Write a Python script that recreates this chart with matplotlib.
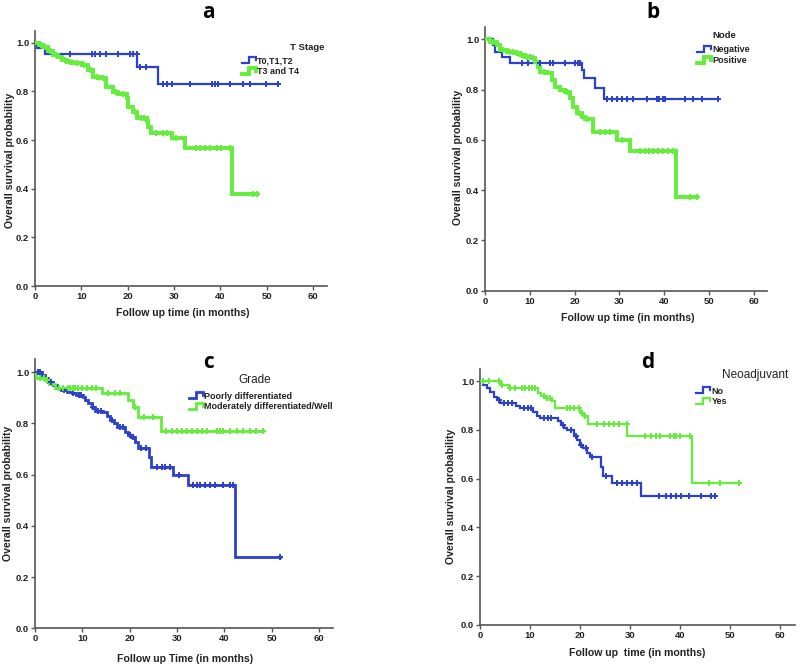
import numpy as np
import matplotlib
matplotlib.use('Agg')
import matplotlib.pyplot as plt
from matplotlib.lines import Line2D
from matplotlib.legend_handler import HandlerBase

plt.rcParams['font.family'] = ['Liberation Sans Narrow', 'Liberation Sans', 'DejaVu Sans']

BLUE = '#2b40cc'
GREEN = '#62ee3a'

# ---- panel a : T stage ----
a_t0_time = [0, 0.5, 2.2, 22.0, 26.6, 52.4]
a_t0_surv = [1.0, 0.979, 0.952, 0.901, 0.830, 0.830]
a_t0_cens = [7.5, 12.2, 12.9, 14.0, 15.3, 18.0, 20.5, 21.2, 21.9, 22.6, 23.9, 27.7, 28.4,
             29.6, 33.4, 38.1, 38.8, 39.5, 42.0, 44.9, 46.3, 49.9, 52.4]
a_t3_time = [0, 0.8, 1.8, 2.8, 3.9, 5.0, 5.9, 7.0, 8.3, 10.1, 11.5, 12.6, 14.0, 15.4, 16.9,
             18.0, 19.8, 20.1, 21.2, 21.9, 24.1, 24.4, 25.1, 29.5, 32.3, 42.5, 47.8]
a_t3_surv = [1.0, 0.99, 0.984, 0.965, 0.949, 0.94, 0.929, 0.922, 0.915, 0.908, 0.888, 0.860,
             0.853, 0.819, 0.799, 0.789, 0.771, 0.737, 0.716, 0.689, 0.68, 0.655, 0.627, 0.607,
             0.566, 0.378, 0.378]
a_t3_cens = [1.2, 2.2, 3.3, 4.5, 6.5, 7.6, 9.0, 10.6, 12.0, 13.3, 14.6, 17.4, 19.0, 21.6, 22.8,
             23.5, 26.2, 27.7, 28.4, 30.5, 34.8, 35.6, 36.6, 37.7, 39.2, 40.2, 42.0, 47.0, 47.8]

# ---- panel b : node ----
b_neg_time = [0, 1.85, 2.2, 3.7, 5.6, 21.6, 22.1, 24.6, 26.6, 52.1]
b_neg_surv = [1.0, 0.977, 0.951, 0.931, 0.904, 0.878, 0.845, 0.805, 0.762, 0.762]
b_neg_cens = [8.2, 9.7, 12.3, 14.5, 15.1, 17.9, 20.1, 20.8, 21.2, 27.2, 28.3, 29.4, 30.5, 31.6,
              33.1, 36.1, 38.3, 38.9, 39.8, 40.2, 44.6, 46.5, 48.4, 52.1]
b_pos_time = [0, 1.1, 2.6, 3.4, 4.8, 6.7, 7.8, 8.9, 10.4, 11.2, 11.9, 12.3, 13.8, 14.9, 15.6,
              16.7, 17.9, 19.0, 19.7, 20.5, 21.6, 22.3, 24.2, 29.4, 32.4, 42.6, 47.2]
b_pos_surv = [1.0, 0.990, 0.977, 0.957, 0.951, 0.947, 0.938, 0.931, 0.924, 0.911, 0.891, 0.871,
              0.865, 0.838, 0.811, 0.798, 0.790, 0.765, 0.732, 0.706, 0.692, 0.682, 0.632, 0.600,
              0.557, 0.374, 0.374]
b_pos_cens = [1.5, 2.0, 4.0, 5.5, 6.2, 7.2, 8.2, 9.3, 10.0, 13.2, 18.3, 20.9, 22.8, 25.7, 26.8,
              27.9, 30.5, 34.6, 35.7, 36.5, 37.6, 38.7, 39.8, 40.9, 42.0, 45.8, 47.2]

# ---- panel c : grade ----
c_poor_time = [0, 1.4, 2.1, 2.8, 3.9, 4.6, 5.6, 6.7, 7.8, 8.6, 10.2, 10.6, 11.3, 12.0, 12.7,
               14.4, 15.2, 15.9, 16.6, 17.3, 19.0, 19.7, 20.4, 21.1, 21.8, 24.2, 24.6, 29.2,
               32.4, 42.3, 51.8]
c_poor_surv = [1.0, 0.989, 0.977, 0.963, 0.950, 0.938, 0.931, 0.924, 0.918, 0.911, 0.905, 0.892,
               0.879, 0.866, 0.850, 0.845, 0.829, 0.814, 0.801, 0.787, 0.768, 0.755, 0.746,
               0.729, 0.703, 0.670, 0.632, 0.599, 0.560, 0.277, 0.277]
c_poor_cens = [0.6, 1.0, 3.3, 5.0, 6.2, 8.0, 9.3, 9.8, 12.3, 13.4, 14.0, 16.2, 18.0, 18.5, 20.0,
               20.8, 22.5, 23.4, 25.7, 26.8, 27.5, 28.5, 30.5, 33.5, 34.2, 34.9, 35.9, 37.0,
               38.1, 39.8, 41.2, 41.9, 51.8]
c_mod_time = [0, 0.3, 2.2, 3.0, 4.2, 14.1, 19.7, 20.8, 21.8, 26.6, 48.3]
c_mod_surv = [1.0, 0.976, 0.97, 0.955, 0.9375, 0.918, 0.892, 0.863, 0.824, 0.772, 0.772]
c_mod_cens = [1.0, 1.8, 2.6, 5.0, 6.0, 7.0, 7.5, 8.0, 8.5, 9.0, 10.0, 11.0, 12.0, 13.0, 15.5,
              17.0, 18.0, 21.2, 23.0, 25.0, 27.8, 28.9, 30.0, 31.0, 32.1, 33.1, 34.2, 35.2,
              36.3, 38.4, 39.1, 39.8, 41.2, 42.6, 44.0, 45.5, 46.8, 48.3]

# ---- panel d : neoadjuvant ----
d_no_time = [0, 0.6, 1.4, 2.0, 2.7, 3.4, 4.0, 7.2, 8.0, 10.6, 11.4, 12.0, 15.5, 16.1, 16.8,
             17.4, 18.8, 19.4, 19.9, 20.6, 21.4, 21.9, 24.1, 24.6, 26.4, 32.2, 47.0]
d_no_surv = [1.0, 0.984, 0.970, 0.956, 0.936, 0.922, 0.911, 0.898, 0.888, 0.874, 0.857, 0.847,
             0.837, 0.820, 0.806, 0.799, 0.775, 0.758, 0.738, 0.724, 0.704, 0.687, 0.649,
             0.612, 0.583, 0.530, 0.530]
d_no_cens = [3.7, 4.8, 5.6, 6.4, 8.7, 9.6, 10.2, 12.8, 13.5, 14.2, 16.6, 18.2, 19.2, 20.2,
             21.2, 22.4, 25.2, 27.3, 28.3, 29.3, 30.3, 31.3, 35.7, 37.3, 38.3, 39.3, 40.3,
             41.9, 44.3, 46.3, 47.0]
d_yes_time = [0, 3.9, 4.3, 5.8, 11.5, 12.1, 13.0, 14.4, 15.0, 19.9, 20.6, 21.6, 29.4, 42.4, 51.7]
d_yes_surv = [1.0, 0.99, 0.984, 0.970, 0.952, 0.939, 0.929, 0.92, 0.888, 0.87, 0.857, 0.824,
              0.775, 0.581, 0.581]
d_yes_cens = [0.6, 1.7, 3.7, 4.4, 6.0, 7.0, 8.3, 9.0, 9.7, 10.3, 11.0, 12.7, 13.3, 14.0, 17.3,
              18.0, 18.7, 19.7, 20.3, 21.0, 23.3, 24.7, 25.7, 26.7, 27.7, 29.3, 33.0, 34.3,
              35.3, 36.0, 38.0, 38.7, 39.3, 40.0, 42.0, 45.7, 48.0, 51.7]


class HandlerStep(HandlerBase):
    def create_artists(self, legend, orig_handle, xdescent, ydescent, width, height,
                       fontsize, trans):
        x0 = -xdescent
        y0 = -ydescent
        xs = [x0, x0 + 0.45 * width, x0 + 0.45 * width, x0 + width, x0 + width]
        ys = [y0 + 0.15 * height, y0 + 0.15 * height, y0 + 0.9 * height,
              y0 + 0.9 * height, y0 + 0.6 * height]
        ln = Line2D(xs, ys, color=orig_handle.get_color(), lw=orig_handle.get_linewidth(),
                    solid_joinstyle='miter')
        ln.set_transform(trans)
        return [ln]


def km(ax, times, surv, cens, color, lw, label):
    times = np.array(times)
    surv = np.array(surv)
    line, = ax.step(times, surv, where='post', color=color, lw=lw, label=label,
                    solid_joinstyle='miter', zorder=3)
    idx = np.searchsorted(times, cens, side='right') - 1
    ax.plot(cens, surv[idx], '+', color=color, ms=4.5, mew=1.4, zorder=4)
    return line


def style(ax):
    ax.set_xlim(0, 63)
    ax.set_ylim(0, 1.05)
    ax.set_xticks(np.arange(0, 61, 10))
    ax.set_yticks(np.arange(0, 1.01, 0.2))
    ax.set_yticklabels(['%.1f' % v for v in np.arange(0, 1.01, 0.2)])
    for s in ['top', 'right']:
        ax.spines[s].set_visible(False)
    for s in ['left', 'bottom']:
        ax.spines[s].set_color('#555555')
        ax.spines[s].set_linewidth(1.2)
    ax.tick_params(length=3, width=1, color='#555555', labelsize=6.8, pad=1.2)
    for lab in ax.get_xticklabels() + ax.get_yticklabels():
        lab.set_fontweight('bold')
        lab.set_color('#222222')


W, H = 800, 667
fig = plt.figure(figsize=(8, 6.67), dpi=100)


def fx(x):
    return x / W


def fy(y):
    return 1 - y / H


panels = [
    # rect in pixels: left, top-of-axes y, width, height
    dict(rect=(35, 30.5, 292, 255.5), title='a', tpos=(208, 12),
         series=[(a_t0_time, a_t0_surv, a_t0_cens, BLUE, 1.6, 'T0,T1,T2'),
                 (a_t3_time, a_t3_surv, a_t3_cens, GREEN, 2.8, 'T3 and T4')],
         leg_title='T Stage', lt_pos=(307, 47), lt_style=dict(fontsize=6.8, fontweight='bold'),
         leg_pos=(242, 56.5), xlabel='Follow up time (in months)', xl_pos=(183, 313),
         yl_pos=(10, 160)),
    dict(rect=(485, 26.7, 282.3, 264), title='b', tpos=(653, 12),
         series=[(b_neg_time, b_neg_surv, b_neg_cens, BLUE, 1.6, 'Negative'),
                 (b_pos_time, b_pos_surv, b_pos_cens, GREEN, 2.8, 'Positive')],
         leg_title='Node', lt_pos=(724, 35), lt_style=dict(fontsize=6.8, fontweight='bold'),
         leg_pos=(697, 45.5), xlabel='Follow up time (in months)', xl_pos=(628, 318),
         yl_pos=(458, 157)),
    dict(rect=(35, 359.5, 298, 268.8), title='c', tpos=(208, 363),
         series=[(c_poor_time, c_poor_surv, c_poor_cens, BLUE, 2.0, 'Poorly differentiated'),
                 (c_mod_time, c_mod_surv, c_mod_cens, GREEN, 2.0,
                  'Moderately differentiated/Well')],
         leg_title='Grade', lt_pos=(255, 380), lt_style=dict(fontsize=8.5),
         leg_pos=(189, 391.5), xlabel='Follow up Time (in months)', xl_pos=(185, 659),
         yl_pos=(8, 493)),
    dict(rect=(480, 368.8, 315, 256.2), title='d', tpos=(648, 362),
         series=[(d_no_time, d_no_surv, d_no_cens, BLUE, 1.6, 'No'),
                 (d_yes_time, d_yes_surv, d_yes_cens, GREEN, 1.6, 'Yes')],
         leg_title='Neoadjuvant', lt_pos=(755, 375), lt_style=dict(fontsize=8.5),
         leg_pos=(696, 386.5), xlabel='Follow up  time (in months)', xl_pos=(637, 653),
         yl_pos=(451, 496)),
]

for p in panels:
    l, t, w, h = p['rect']
    ax = fig.add_axes([fx(l), fy(t + h), w / W, h / H])
    handles = []
    for times, surv, cens, color, lw, label in p['series']:
        handles.append(km(ax, times, surv, cens, color, lw, label))
    style(ax)
    ax.set_xlabel(p['xlabel'], fontsize=7.6, fontweight='bold', color='#222222')
    ax.set_ylabel('Overall survival probability', fontsize=7.6, fontweight='bold',
                  color='#222222')
    ax.xaxis.set_label_coords(fx(p['xl_pos'][0]), fy(p['xl_pos'][1]), transform=fig.transFigure)
    ax.yaxis.set_label_coords(fx(p['yl_pos'][0]), fy(p['yl_pos'][1]), transform=fig.transFigure)
    ax.xaxis.label.set_va('center')
    ax.yaxis.label.set_va('center')
    fig.text(fx(p['tpos'][0]), fy(p['tpos'][1]), p['title'], fontsize=15, fontweight='bold',
             ha='center', va='center', family=['Open Sans', 'DejaVu Sans'])
    fig.text(fx(p['lt_pos'][0]), fy(p['lt_pos'][1]), p['leg_title'], ha='center', va='center',
             color='#222222', **p['lt_style'])
    leg = ax.legend(handles=handles, handler_map={Line2D: HandlerStep()},
                    loc='upper left', bbox_to_anchor=(fx(p['leg_pos'][0]), fy(p['leg_pos'][1])),
                    bbox_transform=fig.transFigure, frameon=False, borderpad=0,
                    borderaxespad=0, handlelength=1.6, handleheight=0.9, handletextpad=0.1,
                    labelspacing=0.22, prop=dict(size=6.5, weight='bold'))
    for txt in leg.get_texts():
        txt.set_color('#222222')

fig.savefig('out.png', dpi=100)
